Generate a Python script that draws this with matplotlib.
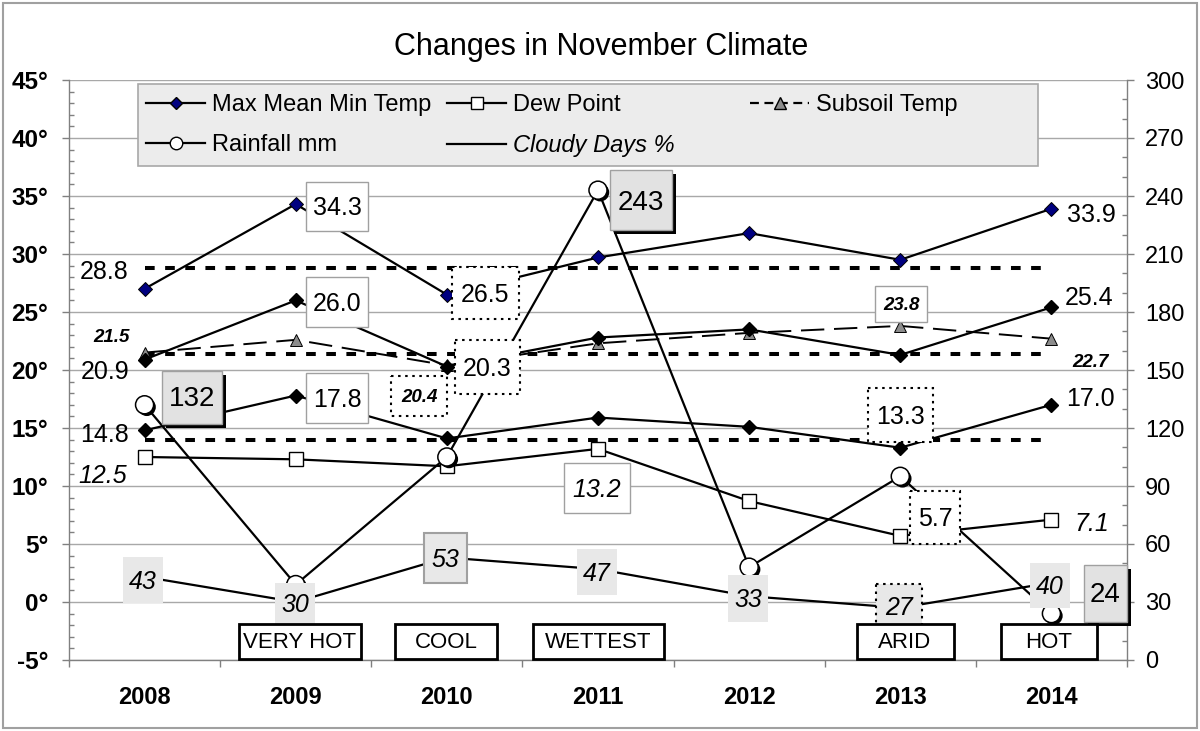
import matplotlib
matplotlib.use("Agg")
import matplotlib.pyplot as plt
import matplotlib.transforms as mtransforms
import matplotlib.patheffects as pe
from matplotlib.patches import Rectangle
from matplotlib.lines import Line2D
from matplotlib.legend import Legend
from matplotlib.ticker import MultipleLocator, FixedLocator

plt.rcParams['font.family'] = ['Liberation Sans', 'DejaVu Sans']

# ---------------- data ----------------
years = ['2008', '2009', '2010', '2011', '2012', '2013', '2014']
max_temp = [27.0, 34.3, 26.5, 29.7, 31.8, 29.5, 33.9]
mean_temp = [20.9, 26.0, 20.3, 22.8, 23.5, 21.3, 25.4]
min_temp = [14.8, 17.8, 14.1, 15.9, 15.1, 13.3, 17.0]
dew_point = [12.5, 12.3, 11.7, 13.2, 8.7, 5.7, 7.1]
subsoil = [21.5, 22.6, 20.4, 22.3, 23.2, 23.8, 22.7]
rainfall = [132, 39, 105, 243, 48, 95, 24]
cloudy = [43, 30, 53, 47, 33, 27, 40]
avg_max = [28.8] * 7
avg_mean = [21.4] * 7
avg_min = [14.0] * 7
notes = ['', 'VERY HOT', 'COOL', 'WETTEST', '', 'ARID', 'HOT']
left_ticks = list(range(-5, 50, 5))
right_ticks = list(range(0, 301, 30))

# ---------------- figure ----------------
W, H = 1200, 731
fig = plt.figure(figsize=(12, 7.31), dpi=100)
L, R, B, T = 69, 1127, 660, 80
ax = fig.add_axes([L / W, 1 - B / H, (R - L) / W, (B - T) / H])
ax2 = ax.twinx()
PX = mtransforms.Affine2D().scale(1 / W, -1 / H).translate(0, 1) + fig.transFigure
x = list(range(len(years)))

# average reference lines
for arr in (avg_max, avg_mean, avg_min):
    ax.plot(x, arr, color='black', lw=2.9, ls=(0, (2.4, 2.6)), zorder=2,
            solid_capstyle='butt', dash_capstyle='butt')

lk = dict(color='black', lw=1.6, zorder=3)
ax.plot(x, subsoil, color='black', lw=1.4, ls=(0, (12, 5)), marker='^', ms=9,
        mfc='#8c8c8c', mec='black', mew=0.7, zorder=3)
ax.plot(x, max_temp, marker='D', ms=7, mfc='#000080', mec='black', mew=0.7, **lk)
ax.plot(x, mean_temp, marker='D', ms=7, mfc='black', mec='black', **lk)
ax.plot(x, min_temp, marker='D', ms=7, mfc='black', mec='black', **lk)
ax.plot(x, dew_point, marker='s', ms=9.5, mfc='white', mec='black', mew=1.0, **lk)

ax2.plot(x, cloudy, color='black', lw=1.6, zorder=2)
ax2.plot(x, rainfall, color='black', lw=1.6, zorder=2)
ax2.plot(x, rainfall, ls='none', marker='o', ms=13, mfc='white', mec='black', mew=1.1,
         zorder=3,
         path_effects=[pe.SimplePatchShadow(offset=(1.6, -1.6), shadow_rgbFace='black', alpha=1),
                       pe.Normal()])

# ---------------- axes styling ----------------
ax.set_xlim(-0.5, 6.5)
ax.set_ylim(-5, 45)
ax2.set_ylim(0, 300)
ax.set_xticks(x, years, fontsize=17, fontweight='bold')
ax.xaxis.set_minor_locator(FixedLocator([i - 0.5 for i in range(len(years) + 1)]))
ax.tick_params(axis='x', which='major', length=0, pad=19)
ax.tick_params(axis='x', which='minor', length=5, width=1, direction='out', color='#808080')
ax.set_yticks(left_ticks, [f"{v}°" for v in left_ticks], fontsize=17.5, fontweight='bold')
ax.yaxis.set_minor_locator(MultipleLocator(1))
ax.tick_params(axis='y', which='major', length=5, width=1, direction='out', color='#808080', pad=10)
ax.tick_params(axis='y', which='minor', length=3.6, width=1, direction='in', color='#808080')
ax2.set_yticks(right_ticks, [str(v) for v in right_ticks], fontsize=17)
ax2.yaxis.set_minor_locator(MultipleLocator(10))
ax2.tick_params(axis='y', which='major', length=5, width=1, direction='out', color='#808080', pad=8)
ax2.tick_params(axis='y', which='minor', length=3.6, width=1, direction='in', color='#808080')
ax.grid(axis='y', which='major', color='#a8a8a8', lw=1)
ax.set_axisbelow(True)
for s in ('top', 'right'):
    ax.spines[s].set_visible(False)
for s in ('top', 'left', 'bottom'):
    ax2.spines[s].set_visible(False)
for a in (ax, ax2):
    for s in a.spines.values():
        s.set_color('#808080')
        s.set_linewidth(1)

# ---------------- title & border ----------------
fig.text(601, 47, 'Changes in November Climate', transform=PX, ha='center', va='center',
         fontsize=22)
fig.add_artist(Rectangle((3, 3), 1194, 725, transform=PX, fill=False,
                         edgecolor='#a0a0a0', lw=1.5))

# ---------------- legend ----------------
ax2.add_patch(Rectangle((138, 84), 900, 82, transform=PX, facecolor='#ececec',
                        edgecolor='#a8a8a8', lw=1.2, zorder=4, clip_on=False))
h_max = Line2D([], [], color='black', lw=1.6, marker='D', ms=6, mfc='#000080', mec='black')
h_rain = Line2D([], [], color='black', lw=1.6, marker='o', ms=9, mfc='white', mec='black')
h_dew = Line2D([], [], color='black', lw=1.6, marker='s', ms=8, mfc='white', mec='black')
h_cloud = Line2D([], [], color='black', lw=1.6)
h_sub = Line2D([], [], color='black', lw=1.6, ls=(0, (4, 2.5)), marker='^', ms=8,
               mfc='#8c8c8c', mec='black')


def make_leg(handles, labels, x0):
    lg = Legend(ax2, handles, labels, loc='upper left', bbox_to_anchor=(x0, 94),
                bbox_transform=PX, frameon=False, fontsize=17, handlelength=2.5,
                handletextpad=0.3, labelspacing=0.76, borderpad=0, borderaxespad=0,
                numpoints=1)
    lg.set_zorder(5)
    ax2.add_artist(lg)
    return lg


make_leg([h_max, h_rain], ['Max Mean Min Temp', 'Rainfall mm'], 146)
lg2 = make_leg([h_dew, h_cloud], ['Dew Point', 'Cloudy Days %'], 447)
lg2.get_texts()[1].set_style('italic')
make_leg([h_sub], ['Subsoil Temp'], 750)

# ---------------- data labels ----------------
shadow_fx = [pe.SimplePatchShadow(offset=(3, -3), shadow_rgbFace='black', alpha=1), pe.Normal()]


def label(s, cx, cy, w=None, h=None, size=18, style='normal', weight='normal',
          face='white', edge='none', elw=1.0, els='-', shadow=False, z=6):
    if w is not None:
        rect = Rectangle((cx - w / 2, cy - h / 2), w, h, transform=PX, facecolor=face,
                         edgecolor=edge, lw=elw, ls=els, zorder=z, clip_on=False)
        if shadow:
            rect.set_path_effects(shadow_fx)
        ax2.add_patch(rect)
    ax2.text(cx, cy + 0.09 * size * 100 / 72, s, transform=PX, ha='center', va='center',
             fontsize=size, fontstyle=style, fontweight=weight, zorder=z + 0.5,
             clip_on=False)


GB = '#a0a0a0'
DOT = (0, (1.2, 2.2))
f1 = lambda v: f"{v:.1f}"

# max
label(f1(avg_max[0]), 104, 270)
label(f1(max_temp[1]), 337, 206, 62, 49, edge=GB)
label(f1(max_temp[2]), 485, 293, 67, 52, edge='black', elw=1.5, els=DOT)
label(f1(max_temp[6]), 1091, 213)
# mean
label(f1(mean_temp[0]), 105, 370)
label(f1(mean_temp[1]), 337, 302, 62, 50, edge=GB)
label(f1(mean_temp[2]), 487, 367, 65, 54, edge='black', elw=1.5, els=DOT)
label(f1(mean_temp[6]), 1089, 296)
# min
label(f1(min_temp[0]), 105, 433)
label(f1(min_temp[1]), 337, 398, 62, 50, edge=GB)
label(f1(min_temp[5]), 900, 415, 65, 54, edge='black', elw=1.5, els=DOT)
label(f1(min_temp[6]), 1090, 397)
# dew point
label(f1(dew_point[0]), 103, 474, style='italic')
label(f1(dew_point[3]), 597, 488, 66, 50, edge=GB, style='italic')
label(f1(dew_point[5]), 935, 517, 50, 53, edge='black', elw=1.5, els=DOT)
label(f1(dew_point[6]), 1092, 522, style='italic')
# subsoil
label(f1(subsoil[0]), 111, 336, size=13.5, style='italic', weight='bold')
label(f1(subsoil[2]), 419, 396, 56, 40, size=13.5, style='italic', weight='bold',
      edge='black', elw=1.5, els=DOT)
label(f1(subsoil[5]), 901, 304, 52, 36, size=13.5, style='italic', weight='bold', edge=GB)
label(f1(subsoil[6]), 1090, 361, size=13.5, style='italic', weight='bold')
# rainfall
RF = '#e2e2e2'
label(str(rainfall[0]), 192, 397, 60, 53, size=20, face=RF, edge=GB, shadow=True)
label(str(rainfall[3]), 641, 200, 62, 60, size=20, face=RF, edge=GB, shadow=True)
label(str(rainfall[6]), 1105, 593, 43, 57, size=20, face=RF, edge=GB, shadow=True)
# cloudy days
CF = '#e8e8e8'
cloud_pos = [(143, 580, 40, 46, 'none', '-'), (295, 603, 40, 41, 'none', '-'),
             (445, 558, 43, 50, GB, '-'), (597, 572, 40, 46, 'none', '-'),
             (748, 598, 40, 47, 'none', '-'), (899, 606, 46, 44, 'black', DOT),
             (1050, 585, 40, 45, 'none', '-')]
for val, (cx, cy, w, h, ec, ls) in zip(cloudy, cloud_pos):
    label(str(val), cx, cy, w, h, style='italic', face=CF, edge=ec, elw=1.5, els=ls)

# note boxes
note_pos = {1: (300, 122), 2: (446, 102), 3: (598, 131), 5: (905, 97), 6: (1049, 96)}
for i, (cx, w) in note_pos.items():
    label(notes[i], cx, 641, w, 35, size=16, edge='black', elw=2.0, z=8)

fig.savefig('out.png', dpi=100)
